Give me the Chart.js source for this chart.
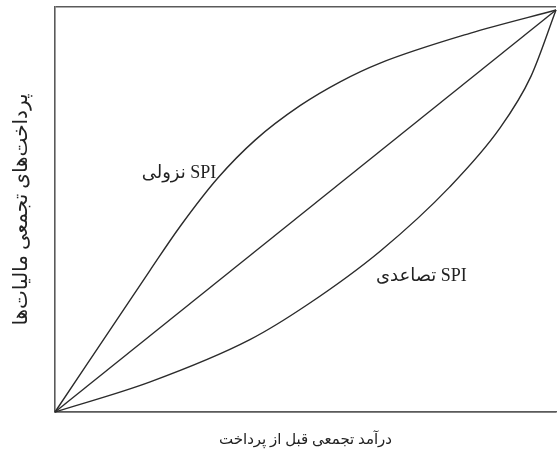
<!DOCTYPE html>
<html>
<head>
<meta charset="utf-8">
<script src="https://cdn.jsdelivr.net/npm/chart.js@4"></script>
<style>
  html, body { margin: 0; padding: 0; background: #fff; }
  #wrap { width: 557px; height: 465px; }
</style>
</head>
<body>
<div id="wrap"><canvas id="chart" width="557" height="465"></canvas></div>
<script>
// curve values (share of income vs share of tax paid)
const regressiveX = [0, 0.19, 0.25, 0.325, 0.40, 0.489, 0.57, 0.649, 0.828, 1];
const regressiveY = [0, 0.353, 0.462, 0.582, 0.677, 0.762, 0.822, 0.868, 0.942, 1];
const equalX = [0, 1];
const equalY = [0, 1];
const progressiveX = [0, 0.19, 0.389, 0.505, 0.649, 0.788, 0.888, 0.95, 1];
const progressiveY = [0, 0.075, 0.18, 0.268, 0.40, 0.56, 0.706, 0.835, 1];

const curveLabels = ["SPI نزولی", "SPI تصاعدی"];
const labelAt = [[0.322, 0.595], [0.822, 0.338]];
const xTitle = "درآمد تجمعی قبل از پرداخت";
const yTitle = "پرداخت‌های تجمعی مالیات‌ها";
const yMax = 1.0075;

const FONT = "'Liberation Serif', 'DejaVu Sans', serif";
const ink = "#2b2b2b";

function pts(xs, ys) {
  return xs.map((x, i) => ({ x: x, y: ys[i] }));
}

function curve(xs, ys) {
  return {
    data: pts(xs, ys),
    showLine: true,
    borderColor: ink,
    borderWidth: 1.4,
    pointRadius: 0,
    cubicInterpolationMode: "monotone",
    clip: false,
  };
}

// writes the two SPI names beside their curves
const curveText = {
  id: "curveText",
  afterDatasetsDraw(chart) {
    const { ctx, scales } = chart;
    ctx.save();
    ctx.fillStyle = "#222";
    ctx.font = "18px " + FONT;
    ctx.direction = "rtl";
    ctx.textBaseline = "middle";
    ctx.textAlign = "right";
    curveLabels.forEach((t, i) => {
      const px = scales.x.getPixelForValue(labelAt[i][0]);
      const py = scales.y.getPixelForValue(labelAt[i][1]);
      ctx.fillText(t, px, py);
    });
    ctx.restore();
  },
};

new Chart(document.getElementById("chart").getContext("2d"), {
  type: "scatter",
  data: {
    datasets: [
      curve(regressiveX, regressiveY),
      curve(equalX, equalY),
      curve(progressiveX, progressiveY),
    ],
  },
  options: {
    responsive: false,
    animation: false,
    layout: { padding: { top: 7, right: 1, left: 0, bottom: 0 } },
    plugins: { legend: { display: false }, tooltip: { enabled: false } },
    scales: {
      x: {
        type: "linear",
        min: 0,
        max: 1,
        grid: { display: false },
        border: { display: true, color: "#5a5a5a", width: 1.6 },
        ticks: { display: false },
        title: {
          display: true,
          text: xTitle,
          color: "#222",
          font: { family: FONT, size: 15 },
          padding: { top: 0, bottom: 16 },
        },
        afterFit(s) { s.height = 53; },
      },
      y: {
        type: "linear",
        min: 0,
        max: yMax,
        afterBuildTicks(s) { s.ticks = [{ value: 0 }, { value: yMax }]; },
        grid: { display: true, drawTicks: false, color: "#5a5a5a", lineWidth: 1.6 },
        border: { display: true, color: "#5a5a5a", width: 1.6 },
        ticks: { display: false },
        title: {
          display: true,
          text: yTitle,
          color: "#222",
          font: { family: FONT, size: 20 },
          padding: { top: 10, bottom: 0 },
        },
        afterFit(s) { s.width = 55; },
      },
    },
  },
  plugins: [curveText],
});
</script>
</body>
</html>
